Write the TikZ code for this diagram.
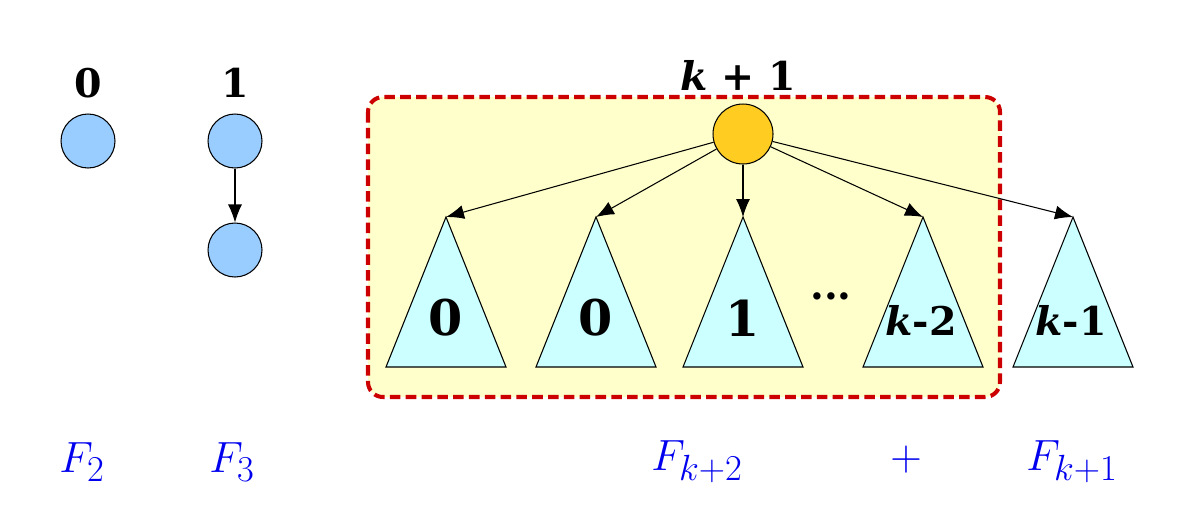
\documentclass[tikz,border=0pt]{standalone}
\usepackage{fontspec}
\usetikzlibrary{arrows.meta}
\newfontfamily\lblfont{DejaVu Serif}
\definecolor{nodeblue}{HTML}{99CCFF}
\definecolor{rootorange}{HTML}{FFCC22}
\definecolor{treecyan}{HTML}{CCFFFF}
\definecolor{boxyellow}{HTML}{FFFFCC}
\definecolor{boxred}{HTML}{CC0000}
\definecolor{fblue}{HTML}{0000EE}
\begin{document}
\begin{tikzpicture}[x=0.02cm, y=-0.02cm,
    nd/.style={circle, draw, line width=0.6pt, fill=nodeblue, minimum size=1.08cm, inner sep=0pt},
    rt/.style={nd, fill=rootorange, minimum size=1.2cm},
    tr/.style={draw, line width=0.6pt, fill=treecyan},
    ar/.style={-{Latex[length=0.36cm, width=0.28cm]}, line width=0.6pt},
    lb/.style={font=\lblfont\bfseries\fontsize{22.5}{26}\selectfont},
    tl/.style={font=\lblfont\bfseries\fontsize{28}{32}\selectfont},
    fl/.style={text=fblue, font=\fontsize{28}{32}\selectfont}]
\useasboundingbox (0,0) rectangle (1199,512);
% dashed group box
\draw[boxred, fill=boxyellow, line width=2.3pt, dash pattern=on 6pt off 3pt,
    rounded corners=0.3cm] (368,97) rectangle (1000,397);
% F2 and F3
\node[nd] (z) at (88,141) {};
\node[lb] (zl) at (88,83) {0};
\node[nd] (o1) at (235,141) {};
\node[nd] (o2) at (235,250) {};
\node[lb] (ol) at (235,83) {1};
\draw[ar] (o1) -- (o2);
% root and subtrees
\node[rt] (r) at (743,134) {};
\node[lb] (rl) at (738,75) {\textit{k} + 1};
\foreach \n/\x in {ta/446, tb/596, tc/743, td/923, te/1073} {
    \draw[tr] (\x-60,367) -- (\x,217) -- (\x+60,367) -- cycle;
    \coordinate (\n) at (\x,217);
}
\node[tl] (la) at (446,318) {0};
\node[tl] (lb) at (596,318) {0};
\node[tl] (lc) at (743,318) {1};
\node[lb] (ld) at (921,320) {\textit{k}-2};
\node[lb] (le) at (1071,320) {\textit{k}-1};
\node[lb] (dots) at (831,296) {...};
\foreach \n in {ta, tb, tc, td, te}
    \draw[ar] (r) -- (\n);
% counts
\node[fl] (f2) at (82,462) {$F_2$};
\node[fl] (f3) at (232,462) {$F_3$};
\node[fl] (fk2) at (697,462) {$F_{k+2}$};
\node[fl] (pl) at (906,460) {$\mathbf{+}$};
\node[fl] (fk1) at (1072,462) {$F_{k+1}$};
\end{tikzpicture}
\end{document}
